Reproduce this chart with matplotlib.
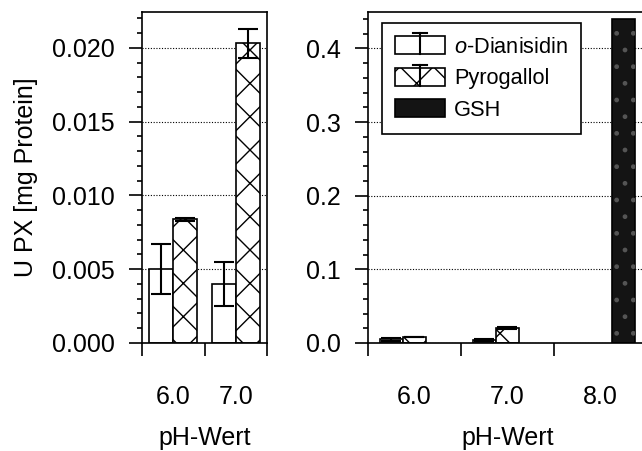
import matplotlib
matplotlib.use('Agg')
import matplotlib.pyplot as plt
import numpy as np
from matplotlib.legend_handler import HandlerBase
from matplotlib.patches import Rectangle
from matplotlib.lines import Line2D
from matplotlib.ticker import MultipleLocator, FixedLocator, NullFormatter, FormatStrFormatter

plt.rcParams['font.family'] = ['Liberation Sans', 'DejaVu Sans']
plt.rcParams['mathtext.fontset'] = 'custom'
plt.rcParams['mathtext.it'] = 'Liberation Sans:italic'
plt.rcParams['mathtext.rm'] = 'Liberation Sans'
plt.rcParams['hatch.linewidth'] = 1.0

# Substrate activities, U PX per mg protein
ph_left = ['6.0', '7.0']
dian = [0.0050, 0.0040]
dian_err = [0.0017, 0.0015]
pyro = [0.0084, 0.0203]
pyro_err = [0.0001, 0.0010]

ph_right = ['6.0', '7.0', '8.0']
dian_r = dian + [np.nan]
dian_r_err = dian_err + [0.0]
pyro_r = pyro + [np.nan]
pyro_r_err = pyro_err + [0.0]
gsh_r = [np.nan, np.nan, 0.44]

names = [r'$\mathit{o}$-Dianisidin', 'Pyrogallol', 'GSH']

FS = 18
FS_LEG = 15.7


class BarWithErr(HandlerBase):
    # legend box with an error bar drawn through its middle
    def __init__(self, err):
        super().__init__()
        self.err = err

    def create_artists(self, legend, orig_handle, xdescent, ydescent,
                       width, height, fontsize, trans):
        x0, y0 = -xdescent, -ydescent
        box = Rectangle((x0, y0), width, height,
                        facecolor=orig_handle.get_facecolor(),
                        edgecolor='black', hatch=orig_handle.get_hatch(),
                        linewidth=1.2, transform=trans)
        out = [box]
        if self.err:
            cx = x0 + width / 2
            top = y0 + height + 2
            out.append(Line2D([cx, cx], [y0, top], color='black', lw=1.5, transform=trans))
            out.append(Line2D([cx - 5, cx + 5], [top, top], color='black', lw=1.5, transform=trans))
        return out


def setup(ax, labels, major, minor, top, fmt):
    n = len(labels)
    ax.set_xlim(-0.5, n - 0.5)
    ax.set_ylim(0, top)
    ax.xaxis.set_major_locator(FixedLocator(np.arange(n + 1) - 0.5))
    ax.xaxis.set_major_formatter(NullFormatter())
    ax.xaxis.set_minor_locator(FixedLocator(np.arange(n)))
    ax.set_xticklabels(labels, minor=True)
    ax.tick_params(axis='x', which='major', direction='out', length=9, width=1.2)
    ax.tick_params(axis='x', which='minor', length=0, pad=30, labelsize=FS)
    ax.yaxis.set_major_locator(MultipleLocator(major))
    ax.yaxis.set_minor_locator(MultipleLocator(minor))
    ax.yaxis.set_major_formatter(FormatStrFormatter(fmt))
    ax.tick_params(axis='y', which='major', direction='out', length=9.5, width=1.2,
                   pad=10, labelsize=FS)
    ax.tick_params(axis='y', which='minor', direction='out', length=3.5, width=1.2)
    ax.grid(axis='y', which='major', color='black', linestyle=(0, (1, 1.5)), linewidth=0.8)
    ax.set_axisbelow(True)
    for s in ax.spines.values():
        s.set_linewidth(1.2)
    ax.set_xlabel('pH-Wert', fontsize=FS, labelpad=12.5)


fig = plt.figure(figsize=(6.42, 4.51), dpi=100)
ax1 = fig.add_axes([142 / 642, 1 - 343 / 451, 125 / 642, 331 / 451])
ax2 = fig.add_axes([368 / 642, 1 - 343 / 451, 279 / 642, 331 / 451])

# left: pH 6.0 and 7.0 only
setup(ax1, ph_left, 0.005, 0.001, 0.02243, '%.3f')
x = np.arange(len(ph_left))
w = 0.385
ax1.bar(x - w / 2, dian, w, color='white', edgecolor='black', linewidth=1.2)
ax1.bar(x + w / 2, pyro, w, color='white', edgecolor='black', linewidth=1.2, hatch='x')
ax1.errorbar(x - w / 2, dian, yerr=dian_err, fmt='none', ecolor='black',
             elinewidth=1.5, capsize=7, capthick=1.5)
ax1.errorbar(x + w / 2, pyro, yerr=pyro_err, fmt='none', ecolor='black',
             elinewidth=1.5, capsize=7, capthick=1.5)
ax1.set_ylabel('U PX [mg Protein]', fontsize=FS, labelpad=10)

# right: all three substrates
setup(ax2, ph_right, 0.1, 0.02, 0.4494, '%.1f')
x = np.arange(len(ph_right))
w = 0.25
b1 = ax2.bar(x - w, dian_r, w, color='white', edgecolor='black', linewidth=1.2)
b2 = ax2.bar(x, pyro_r, w, color='white', edgecolor='black', linewidth=1.2, hatch='x')
b3 = ax2.bar(x + w, gsh_r, w, color='#141414', edgecolor='black', linewidth=1.2)
# faint grey stipple on the GSH bar
ax2.bar(x + w, gsh_r, w, color='none', edgecolor='#555555', linewidth=0, hatch='.')
ax2.errorbar(x - w, dian_r, yerr=dian_r_err, fmt='none', ecolor='black',
             elinewidth=1.5, capsize=7, capthick=1.5)
ax2.errorbar(x, pyro_r, yerr=pyro_r_err, fmt='none', ecolor='black',
             elinewidth=1.5, capsize=7, capthick=1.5)

h1, h2, h3 = b1.patches[0], b2.patches[0], b3.patches[0]
leg = ax2.legend([h1, h2, h3], names,
                 handler_map={h1: BarWithErr(True), h2: BarWithErr(True), h3: BarWithErr(False)},
                 loc='upper left', bbox_to_anchor=(14 / 279, 320 / 331), borderaxespad=0,
                 fontsize=FS_LEG, handlelength=2.3, handleheight=0.92, handletextpad=0.4,
                 labelspacing=0.45, borderpad=0.6, fancybox=False, framealpha=1,
                 edgecolor='black')
leg.get_frame().set_linewidth(1.2)

fig.savefig('out.png', dpi=100)
